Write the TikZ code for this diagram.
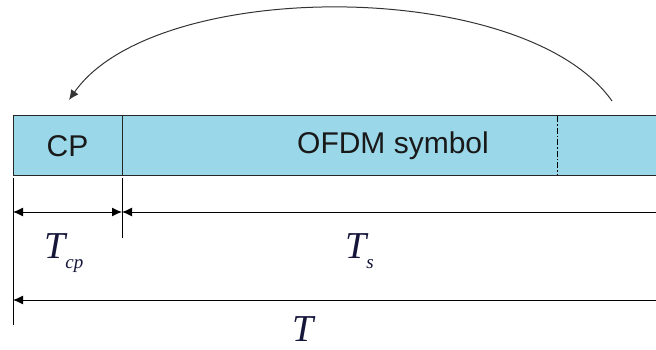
\documentclass[tikz,border=0pt]{standalone}
\usepackage{fontspec}
\setmainfont{Liberation Serif}
\newfontfamily\boxfont{Liberation Sans}
\usetikzlibrary{arrows.meta}
\definecolor{cellfill}{HTML}{9AD8E9}
\definecolor{labink}{HTML}{15163A}
\tikzset{
  cell/.style={draw=black!85, line width=1.3pt, fill=cellfill, minimum height=60pt,
    inner sep=0pt, anchor=north west},
  celltext/.style={text=black!90, font=\boxfont\fontsize{30}{30}\selectfont},
  dimline/.style={line width=1pt, black},
  tip/.style={-{Latex[length=10pt,width=9pt]}},
  lab/.style={text=labink, inner sep=0pt, font=\itshape\fontsize{38}{38}\selectfont}
}
\newcommand{\lowsub}[1]{\raisebox{-10pt}{\fontsize{19}{19}\selectfont #1}}
\begin{document}
\begin{tikzpicture}[x=1pt,y=-1pt]
  \useasboundingbox (0,0) rectangle (656,349);
  \clip (0,0) rectangle (656,349);

  % frame: cyclic prefix and the symbol body
  \node[cell, minimum width=540pt] (sym) at (122,115) {};
  \node[cell, minimum width=109pt] (cp) at (13,115) {};
  \node[celltext] (cptext) at (67.5,146) {CP};
  \node[celltext] (symtext) at (393,146) {OFDM symbol};

  % tail of the symbol that is copied into the prefix
  \coordinate (cutT) at (557,116);
  \coordinate (cutB) at (557,174);
  \draw[line width=1pt, dash pattern=on 6pt off 2pt on 1.5pt off 2pt] (cutT) -- (cutB);

  % copy arrow
  \coordinate (arcS) at (612,101);
  \coordinate (arcE) at (69,100);
  \draw[line width=1pt, black!80, tip] (arcS) .. controls (525,-23) and (155,-23) .. (arcE);

  % extension lines
  \coordinate (l0) at (13,178);
  \coordinate (l1) at (13,325);
  \coordinate (m0) at (122,178);
  \coordinate (m1) at (122,238);
  \draw[dimline] (l0) -- (l1);
  \draw[dimline] (m0) -- (m1);

  % dimension arrows
  \coordinate (a0) at (13,212);
  \coordinate (a1) at (122,212);
  \coordinate (a2) at (660,212);
  \coordinate (b0) at (13,300);
  \coordinate (b1) at (660,300);
  \draw[dimline, {Latex[length=10pt,width=9pt]}-{Latex[length=10pt,width=9pt]}] (a0) -- (a1);
  \draw[dimline, {Latex[length=10pt,width=9pt]}-] (a1) -- (a2);
  \draw[dimline, {Latex[length=10pt,width=9pt]}-] (b0) -- (b1);

  % labels
  \node[lab, anchor=base west] (tcp) at (44,258) {T\lowsub{cp}};
  \node[lab, anchor=base west] (ts) at (345,258) {T\lowsub{s}};
  \node[lab, text depth=0pt, anchor=base] (tt) at (303,341) {T};
\end{tikzpicture}
\end{document}
